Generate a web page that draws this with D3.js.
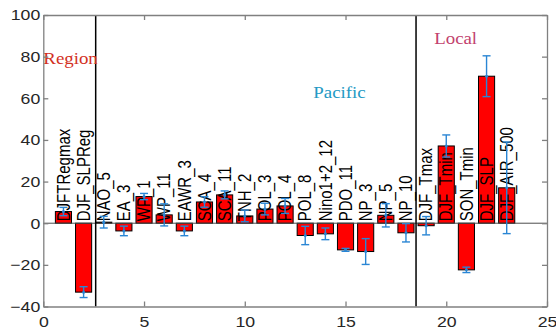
<!DOCTYPE html>
<html>
<head>
<meta charset="utf-8">
<script src="https://cdn.jsdelivr.net/npm/d3@7"></script>
<style>
  html, body { margin: 0; padding: 0; background: #fff; }
  svg { display: block; }
</style>
</head>
<body>
<svg id="chart" width="556" height="330"></svg>
<script>
// Index categories, one bar per index
const categories = ["DJFTRegmax", "DJF_SLPReg", "NAO_5", "EA_3", "WP_1", "WP_11", "EAWR_3",
  "SCA_4", "SCA_11", "TNH_2", "POL_3", "POL_4", "POL_8", "Nino1+2_12", "PDO_11",
  "NP_3", "NP_5", "NP_10", "DJF_Tmax", "DJF_Tmin", "SON_Tmin", "DJF_SLP", "DJF_AIR_500"];
// Bar values
const values = [5.6, -33.1, 0.5, -3.7, 12.8, 4.0, -3.7, 10.2, 13.6, 3.5, 6.8, 8.3,
  -5.9, -5.1, -12.8, -13.6, 3.8, -4.6, -1.2, 37.1, -22.4, 70.6, 17.0];
// Error half-widths
const errors = [2.0, 2.6, 2.8, 2.3, 1.5, 5.3, 2.3, 2.5, 1.9, 2.8, 2.8, 3.6,
  4.4, 2.8, 0.7, 6.2, 5.6, 4.4, 4.4, 5.3, 1.3, 9.8, 22.0];
// Group separators and group titles
const separators = [2.6, 18.5];
const groups = [
  { name: "Region", x: 0.0, y: 76.7, color: "#d2301f" },
  { name: "Pacific", x: 13.4, y: 60.3, color: "#2399c4" },
  { name: "Local", x: 19.4, y: 85.9, color: "#c2426e" }
];
const xTicks = [0, 5, 10, 15, 20, 25];
const yTicks = [-40, -20, 0, 20, 40, 60, 80, 100];

const margin = { top: 15, right: 9, bottom: 23.5, left: 43.3 };
const width = 556 - margin.left - margin.right;
const height = 330 - margin.top - margin.bottom;
const stretch = 1.18;

const svg = d3.select("#chart");
const g = svg.append("g").attr("transform", `translate(${margin.left},${margin.top})`);

const x = d3.scaleLinear().domain([0, 25]).range([0, width]);
const y = d3.scaleLinear().domain([-40, 100]).range([height, 0]);

const data = categories.map((c, i) => ({ name: c, i: i + 1, v: values[i], e: errors[i] }));
const barW = x(0.8) - x(0);

// Bars
g.selectAll("rect.bar").data(data).enter().append("rect")
  .attr("class", "bar")
  .attr("x", d => x(d.i) - barW / 2)
  .attr("width", barW)
  .attr("y", d => y(Math.max(0, d.v)))
  .attr("height", d => Math.abs(y(d.v) - y(0)))
  .attr("fill", "#ff0000")
  .attr("stroke", "#000")
  .attr("stroke-width", 1);

// Baseline at zero
g.append("line")
  .attr("x1", x(0)).attr("x2", x(25))
  .attr("y1", y(0)).attr("y2", y(0))
  .attr("stroke", "#4d4d4d").attr("stroke-width", 1);

// Group separators
g.selectAll("line.sep").data(separators).enter().append("line")
  .attr("class", "sep")
  .attr("x1", d => x(d)).attr("x2", d => x(d))
  .attr("y1", 0).attr("y2", height)
  .attr("stroke", "#000").attr("stroke-width", 1.5);

// Category labels, rotated, starting at the zero line
g.selectAll("text.cat").data(data).enter().append("text")
  .attr("class", "cat")
  .attr("transform", d => `translate(${x(d.i)},${y(0) - 2}) scale(${stretch},1) rotate(-90)`)
  .attr("dy", "0.35em")
  .attr("font-family", "Liberation Sans, Arial, sans-serif")
  .attr("font-size", 15)
  .attr("fill", "#000")
  .text(d => d.name);

// Error bars
const capW = 4;
const eb = g.selectAll("g.err").data(data).enter().append("g")
  .attr("class", "err")
  .attr("stroke", "#2a86d4")
  .attr("stroke-width", 1.4)
  .attr("fill", "#2a86d4");
eb.append("line")
  .attr("x1", d => x(d.i)).attr("x2", d => x(d.i))
  .attr("y1", d => y(d.v + d.e)).attr("y2", d => y(d.v - d.e));
eb.append("line")
  .attr("x1", d => x(d.i) - capW).attr("x2", d => x(d.i) + capW)
  .attr("y1", d => y(d.v + d.e)).attr("y2", d => y(d.v + d.e));
eb.append("line")
  .attr("x1", d => x(d.i) - capW).attr("x2", d => x(d.i) + capW)
  .attr("y1", d => y(d.v - d.e)).attr("y2", d => y(d.v - d.e));
eb.append("circle")
  .attr("cx", d => x(d.i)).attr("cy", d => y(d.v)).attr("r", 1.5)
  .attr("stroke", "none");

// Group titles
g.selectAll("text.grp").data(groups).enter().append("text")
  .attr("class", "grp")
  .attr("transform", d => `translate(${x(d.x)},${y(d.y)}) scale(${stretch},1)`)
  .attr("font-family", "Liberation Serif, Times New Roman, serif")
  .attr("font-size", 16)
  .attr("fill", d => d.color)
  .text(d => d.name);

// Axes with inward ticks on all four sides
const axisColor = "#808080";
function styleAxis(sel) {
  sel.selectAll("path.domain").attr("stroke", axisColor).attr("stroke-width", 1.3);
  sel.selectAll(".tick line").attr("stroke", axisColor).attr("stroke-width", 1.3);
  sel.selectAll(".tick text")
    .attr("font-family", "Liberation Sans, Arial, sans-serif")
    .attr("font-size", 15)
    .attr("fill", "#262626");
}
const axL = g.append("g").call(d3.axisLeft(y).tickValues(yTicks).tickSize(-5).tickSizeOuter(0).tickPadding(2.6));
axL.selectAll(".tick text").attr("transform", `scale(${stretch},1)`);
styleAxis(axL);
const axB = g.append("g").attr("transform", `translate(0,${height})`)
  .call(d3.axisBottom(x).tickValues(xTicks).tickSize(-5).tickSizeOuter(0).tickPadding(10));
axB.selectAll(".tick text").attr("transform", `scale(${stretch},1)`);
styleAxis(axB);
const axR = g.append("g").attr("transform", `translate(${width},0)`)
  .call(d3.axisRight(y).tickValues(yTicks).tickSize(-5).tickSizeOuter(0).tickFormat(""));
styleAxis(axR);
const axT = g.append("g")
  .call(d3.axisTop(x).tickValues(xTicks).tickSize(-5).tickSizeOuter(0).tickFormat(""));
styleAxis(axT);
</script>
</body>
</html>
